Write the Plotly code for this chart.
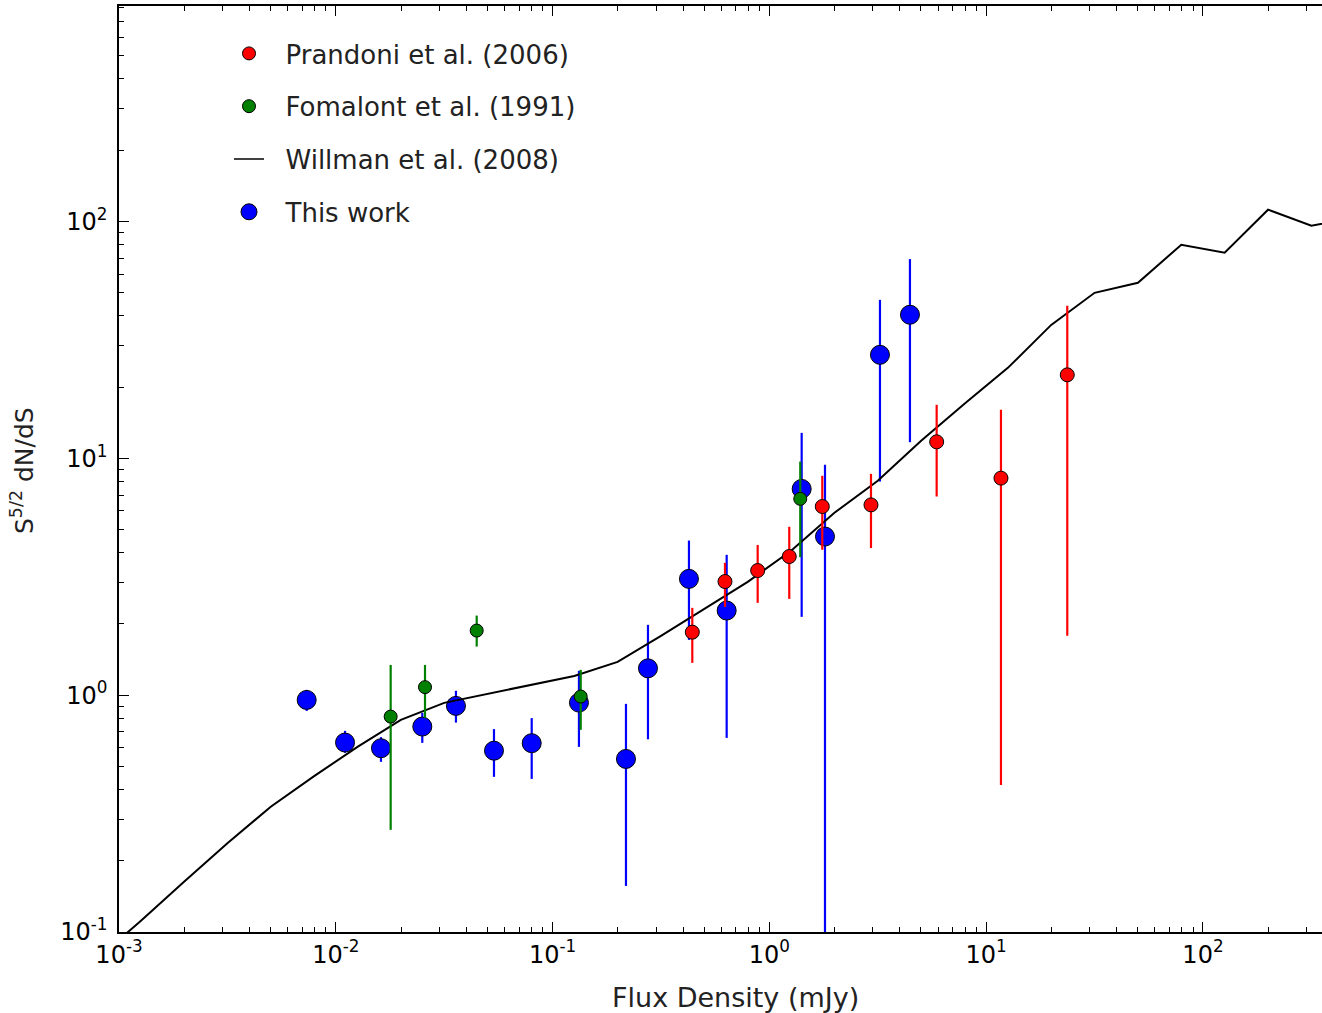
import plotly.graph_objects as go

# ---------------- data ----------------
# This work (blue)
work_x = [0.00734, 0.01103, 0.01616, 0.02506, 0.03583, 0.05366, 0.0801, 0.1323,
          0.218, 0.2754, 0.4256, 0.6353, 1.409, 1.805, 3.236, 4.45]
work_y = [0.955, 0.631, 0.597, 0.737, 0.901, 0.583, 0.627, 0.930,
          0.538, 1.298, 3.098, 2.277, 7.43, 4.676, 27.36, 40.4]
work_hi = [1.053, 0.707, 0.665, 0.842, 1.043, 0.719, 0.800, 1.267,
           0.919, 1.981, 4.497, 3.913, 12.81, 9.39, 46.7, 69.4]
work_lo = [0.858, 0.571, 0.523, 0.629, 0.766, 0.452, 0.443, 0.605,
           0.1565, 0.651, 1.712, 0.660, 2.141, 0.02, 7.98, 11.70]

# Prandoni et al. (2006) (red)
pran_x = [0.441, 0.624, 0.883, 1.235, 1.754, 2.942, 5.91, 11.70, 23.66]
pran_y = [1.845, 3.018, 3.36, 3.85, 6.26, 6.36, 11.74, 8.25, 22.52]
pran_hi = [2.337, 3.62, 4.31, 5.14, 8.44, 8.60, 16.83, 16.03, 44.06]
pran_lo = [1.369, 2.36, 2.454, 2.55, 4.11, 4.18, 6.90, 0.418, 1.78]

# Fomalont et al. (1991) (green)
foma_x = [0.01791, 0.02579, 0.04466, 0.1348, 1.388]
foma_y = [0.812, 1.081, 1.874, 0.987, 6.745]
foma_hi = [1.342, 1.342, 2.168, 1.279, 9.69]
foma_lo = [0.270, 0.802, 1.604, 0.714, 3.826]

# Willman et al. (2008) model (black line)
will_x = [10 ** v for v in [-3.1, -2.9, -2.7, -2.5, -2.3, -2.1, -1.9, -1.7, -1.5, -1.3,
                            -1.1, -0.9, -0.7, -0.5, -0.3, -0.1, 0.1, 0.3, 0.5, 0.7,
                            0.9, 1.1, 1.3, 1.5, 1.7, 1.9, 2.1, 2.3, 2.5, 2.7]]
will_y = [0.0770, 0.1114, 0.163, 0.237, 0.338, 0.455, 0.605, 0.787, 0.928, 1.013,
          1.105, 1.206, 1.382, 1.780, 2.314, 3.010, 4.07, 5.89, 8.04, 11.86,
          17.0, 24.1, 36.6, 50.0, 55.1, 79.8, 73.8, 112.2, 96.0, 103.8]

x_tickvals = [1e-3, 1e-2, 1e-1, 1e0, 1e1, 1e2]
x_ticktext = ["10<sup>-3</sup>", "10<sup>-2</sup>", "10<sup>-1</sup>",
              "10<sup>0</sup>", "10<sup>1</sup>", "10<sup>2</sup>"]
y_tickvals = [1e-1, 1e0, 1e1, 1e2]
y_ticktext = ["10<sup>-1</sup>", "10<sup>0</sup>", "10<sup>1</sup>", "10<sup>2</sup>"]

names = ["Prandoni et al. (2006)", "Fomalont et al. (1991)",
         "Willman et al. (2008)", "This work"]

# ---------------- figure ----------------
FONT = "DejaVu Sans"
BLUE, RED, GREEN = "#0000ff", "#ff0000", "#008000"
PAD = "\u00a0\u00a0"


def err(y, hi, lo, color):
    return dict(type="data", symmetric=False,
                array=[h - v for h, v in zip(hi, y)],
                arrayminus=[v - l for v, l in zip(y, lo)],
                color=color, thickness=2.2, width=0)


fig = go.Figure()

fig.add_trace(go.Scatter(
    x=work_x, y=work_y, mode="markers", showlegend=False,
    marker=dict(color=BLUE, size=19, line=dict(color="black", width=1)),
    error_y=err(work_y, work_hi, work_lo, BLUE)))

fig.add_trace(go.Scatter(
    x=will_x, y=will_y, mode="lines", showlegend=False,
    line=dict(color="black", width=2)))

fig.add_trace(go.Scatter(
    x=foma_x, y=foma_y, mode="markers", showlegend=False,
    marker=dict(color=GREEN, size=13, line=dict(color="black", width=1)),
    error_y=err(foma_y, foma_hi, foma_lo, GREEN)))

fig.add_trace(go.Scatter(
    x=pran_x, y=pran_y, mode="markers", showlegend=False,
    marker=dict(color=RED, size=14, line=dict(color="black", width=1)),
    error_y=err(pran_y, pran_hi, pran_lo, RED)))

# legend entries
fig.add_trace(go.Scatter(x=[None], y=[None], mode="markers", name=PAD + names[0],
                         legendgroup="a",
                         marker=dict(color=RED, size=13, line=dict(color="black", width=1))))
fig.add_trace(go.Scatter(x=[None], y=[None], mode="markers", name=PAD + names[1],
                         legendgroup="b",
                         marker=dict(color=GREEN, size=13, line=dict(color="black", width=1))))
fig.add_trace(go.Scatter(x=[None], y=[None], mode="lines", name=PAD + names[2],
                         legendgroup="c", line=dict(color="black", width=1.5)))
fig.add_trace(go.Scatter(x=[None], y=[None], mode="markers", name=PAD + names[3],
                         legendgroup="d",
                         marker=dict(color=BLUE, size=19, line=dict(color="black", width=1))))

axis_common = dict(
    type="log", showgrid=False, zeroline=False,
    showline=True, linecolor="black", linewidth=1.5,
    ticks="inside", ticklen=10, tickwidth=1, tickcolor="black",
    tickmode="array",
    tickfont=dict(family=FONT, size=24, color="black"),
)

x_minor = [k * 10 ** n for n in range(-3, 3) for k in range(2, 10)]
y_minor = [k * 10 ** n for n in range(-1, 3) for k in range(2, 10)]

fig.update_xaxes(**axis_common, range=[-3, 2.549], mirror="ticks",
                 tickvals=x_tickvals, ticktext=x_ticktext,
                 minor=dict(ticks="inside", ticklen=5, tickwidth=1, tickcolor="black",
                            tickvals=x_minor, showgrid=False))
fig.update_yaxes(**axis_common, range=[-1, 2.910], mirror=False,
                 tickvals=y_tickvals, ticktext=y_ticktext, ticklabelstandoff=5,
                 minor=dict(ticks="inside", ticklen=5, tickwidth=1, tickcolor="black",
                            tickvals=y_minor, showgrid=False))

fig.update_layout(
    width=1322, height=1013,
    margin=dict(l=119, r=0, t=6, b=81, pad=0),
    paper_bgcolor="white", plot_bgcolor="white",
    font=dict(family=FONT, size=24, color="black"),
    legend=dict(x=(229 - 119) / 1203, y=(932 - 30) / 926, xanchor="left", yanchor="top",
                bgcolor="rgba(0,0,0,0)", borderwidth=0, tracegroupgap=16,
                font=dict(family=FONT, size=26, color="#222222"), itemwidth=30),
    annotations=[
        dict(text="Flux Density (mJy)", xref="paper", yref="paper",
             x=(735 - 119) / 1203, y=(932 - 997) / 926, xanchor="center", yanchor="middle",
             showarrow=False, font=dict(family=FONT, size=27, color="#222222")),
        dict(text="S<sup>5/2</sup> dN/dS", xref="paper", yref="paper",
             x=(22 - 119) / 1203, y=(932 - 470) / 926, xanchor="center", yanchor="middle",
             textangle=-90, showarrow=False,
             font=dict(family=FONT, size=25, color="#222222")),
    ],
)

fig.write_html("out.html")
